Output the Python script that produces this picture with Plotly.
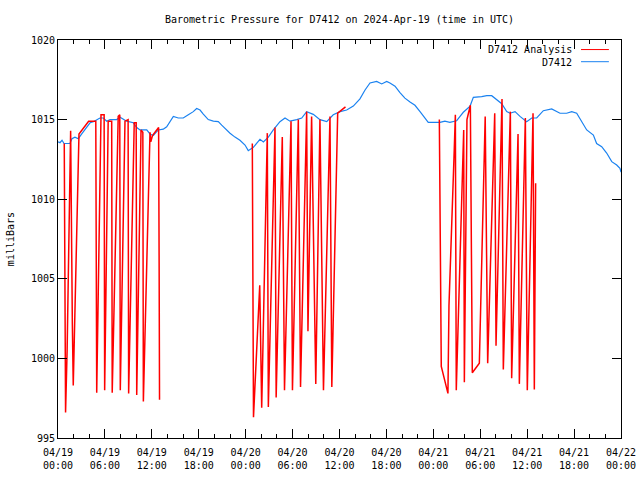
import plotly.graph_objects as go

# ---------------- data ----------------
blue_time = [
    "2024-04-19 00:00", "2024-04-19 00:15", "2024-04-19 00:31", "2024-04-19 00:46", "2024-04-19 01:32",
    "2024-04-19 01:47", "2024-04-19 02:10", "2024-04-19 02:36", "2024-04-19 03:02", "2024-04-19 03:40",
    "2024-04-19 04:06", "2024-04-19 04:31", "2024-04-19 05:22", "2024-04-19 05:48", "2024-04-19 06:14",
    "2024-04-19 06:39", "2024-04-19 07:30", "2024-04-19 07:56", "2024-04-19 08:47", "2024-04-19 09:38",
    "2024-04-19 10:04", "2024-04-19 10:29", "2024-04-19 11:21", "2024-04-19 11:46", "2024-04-19 12:11",
    "2024-04-19 12:50", "2024-04-19 13:28", "2024-04-19 13:54", "2024-04-19 14:19", "2024-04-19 14:45",
    "2024-04-19 15:23", "2024-04-19 16:01", "2024-04-19 16:40", "2024-04-19 17:18", "2024-04-19 17:44",
    "2024-04-19 18:10", "2024-04-19 18:35", "2024-04-19 19:13", "2024-04-19 19:52", "2024-04-19 20:30",
    "2024-04-19 20:56", "2024-04-19 21:21", "2024-04-19 22:00", "2024-04-19 22:38", "2024-04-19 23:16",
    "2024-04-19 23:55",
    "2024-04-20 00:20", "2024-04-20 00:59", "2024-04-20 01:50", "2024-04-20 02:16", "2024-04-20 02:54",
    "2024-04-20 03:32", "2024-04-20 04:23", "2024-04-20 05:02", "2024-04-20 05:40", "2024-04-20 06:32",
    "2024-04-20 07:10", "2024-04-20 07:48", "2024-04-20 08:39", "2024-04-20 09:30", "2024-04-20 10:22",
    "2024-04-20 11:12", "2024-04-20 12:04", "2024-04-20 12:55", "2024-04-20 13:46", "2024-04-20 14:37",
    "2024-04-20 15:16", "2024-04-20 15:54", "2024-04-20 16:45", "2024-04-20 17:24", "2024-04-20 18:02",
    "2024-04-20 18:27", "2024-04-20 19:06", "2024-04-20 19:44", "2024-04-20 20:22", "2024-04-20 21:01",
    "2024-04-20 21:39", "2024-04-20 22:18", "2024-04-20 22:48", "2024-04-20 23:21",
    "2024-04-21 00:51", "2024-04-21 01:29", "2024-04-21 02:07", "2024-04-21 02:59", "2024-04-21 03:25",
    "2024-04-21 03:50", "2024-04-21 04:42", "2024-04-21 05:07", "2024-04-21 06:11", "2024-04-21 06:50",
    "2024-04-21 07:28", "2024-04-21 08:06", "2024-04-21 08:45", "2024-04-21 09:23", "2024-04-21 09:48",
    "2024-04-21 10:27", "2024-04-21 11:05", "2024-04-21 11:56", "2024-04-21 12:35", "2024-04-21 13:13",
    "2024-04-21 14:04", "2024-04-21 15:08", "2024-04-21 16:12", "2024-04-21 17:03", "2024-04-21 17:42",
    "2024-04-21 18:20", "2024-04-21 18:58", "2024-04-21 19:37", "2024-04-21 20:28", "2024-04-21 20:53",
    "2024-04-21 21:32", "2024-04-21 22:10", "2024-04-21 22:49", "2024-04-21 23:27", "2024-04-21 23:52",
    "2024-04-22 00:00",
]
blue_value = [
    1013.6, 1013.55, 1013.7, 1013.5, 1013.5,
    1013.8, 1013.9, 1013.8, 1014.1, 1014.55,
    1014.8, 1014.87, 1015.1, 1015.1, 1014.9,
    1015.0, 1015.0, 1015.15, 1014.9, 1014.8,
    1014.5, 1014.35, 1014.35, 1014.1, 1014.0,
    1014.35, 1014.4, 1014.55, 1014.9, 1015.2,
    1015.1, 1015.1, 1015.3, 1015.5, 1015.7,
    1015.6, 1015.35, 1015.0, 1014.9, 1014.87,
    1014.65, 1014.45, 1014.14, 1013.9, 1013.7,
    1013.4,
    1013.05, 1013.26, 1013.76, 1013.6, 1013.9,
    1014.35, 1014.87, 1015.1, 1014.9, 1015.0,
    1015.1, 1015.5, 1015.33, 1015.0, 1014.87,
    1015.3, 1015.5, 1015.6, 1015.85, 1016.3,
    1016.86, 1017.3, 1017.4, 1017.24, 1017.4,
    1017.3, 1017.1, 1016.7, 1016.35, 1016.1,
    1015.9, 1015.5, 1015.2, 1014.83,
    1014.83, 1014.9, 1014.83, 1014.93, 1015.2,
    1015.46, 1015.85, 1016.4, 1016.44, 1016.5,
    1016.5, 1016.23, 1016.0, 1015.5, 1015.4,
    1015.5, 1015.2, 1014.87, 1015.1, 1015.1,
    1015.56, 1015.67, 1015.4, 1015.4, 1015.5,
    1015.4, 1014.87, 1014.35, 1014.03, 1013.5,
    1013.3, 1012.9, 1012.36, 1012.15, 1011.94,
    1011.7,
]

red_time = [
    "2024-04-19 00:48", "2024-04-19 00:58", "2024-04-19 01:10", "2024-04-19 01:37", "2024-04-19 01:50",
    "2024-04-19 01:57", "2024-04-19 02:41", "2024-04-19 03:20", "2024-04-19 03:55", "2024-04-19 04:50",
    "2024-04-19 04:57", "2024-04-19 05:30", "2024-04-19 05:54", "2024-04-19 05:58", "2024-04-19 06:25",
    "2024-04-19 06:52", "2024-04-19 06:56", "2024-04-19 07:42", "2024-04-19 07:54", "2024-04-19 07:58",
    "2024-04-19 08:34", "2024-04-19 08:58", "2024-04-19 09:02", "2024-04-19 09:45", "2024-04-19 10:00",
    "2024-04-19 10:04", "2024-04-19 10:37", "2024-04-19 10:51", "2024-04-19 10:55", "2024-04-19 11:46",
    "2024-04-19 11:52", "2024-04-19 12:05", "2024-04-19 12:52", "2024-04-19 12:56", "2024-04-19 12:59",
    None,
    "2024-04-20 00:51", "2024-04-20 00:56", "2024-04-20 01:00", "2024-04-20 01:48", "2024-04-20 02:03",
    "2024-04-20 02:46", "2024-04-20 02:54", "2024-04-20 03:45", "2024-04-20 03:54", "2024-04-20 04:41",
    "2024-04-20 04:58", "2024-04-20 05:48", "2024-04-20 05:59", "2024-04-20 06:44", "2024-04-20 07:01",
    "2024-04-20 07:48", "2024-04-20 07:58", "2024-04-20 08:26", "2024-04-20 08:58", "2024-04-20 09:30",
    "2024-04-20 09:57", "2024-04-20 10:47", "2024-04-20 11:01", "2024-04-20 11:46", "2024-04-20 12:46",
    None,
    "2024-04-21 00:46", "2024-04-21 00:49", "2024-04-21 00:55", "2024-04-21 01:01", "2024-04-21 01:52",
    "2024-04-21 02:00", "2024-04-21 02:40", "2024-04-21 02:49", "2024-04-21 02:56", "2024-04-21 03:53",
    "2024-04-21 03:58", "2024-04-21 04:18", "2024-04-21 04:44", "2024-04-21 04:59", "2024-04-21 05:53",
    "2024-04-21 06:38", "2024-04-21 06:57", "2024-04-21 07:51", "2024-04-21 08:01", "2024-04-21 08:47",
    "2024-04-21 08:57", "2024-04-21 09:51", "2024-04-21 10:01", "2024-04-21 10:50", "2024-04-21 11:00",
    "2024-04-21 11:46", "2024-04-21 12:01", "2024-04-21 12:45", "2024-04-21 12:55", "2024-04-21 13:05",
]
red_value = [
    1013.5, 996.6, 1000.5, 1014.3, 1002.2,
    998.3, 1014.1, 1014.5, 1014.9, 1014.9,
    997.85, 1015.3, 1015.3, 998.0, 1014.9,
    1014.9, 997.85, 1015.2, 1015.3, 998.0,
    1014.9, 1015.0, 997.8, 1014.8, 1014.8,
    997.7, 1014.35, 1014.2, 997.3, 1014.2,
    1013.6, 1014.0, 1014.5, 1006.0, 997.4,
    None,
    1013.5, 1004.9, 996.3, 1004.6, 996.9,
    1014.15, 996.95, 1014.5, 997.55, 1013.9,
    998.0, 1014.9, 998.0, 1015.0, 998.2,
    1015.5, 1001.7, 1015.2, 998.4, 1015.0,
    998.0, 1015.2, 998.2, 1015.4, 1015.8,
    None,
    1015.0, 1011.2, 1003.5, 999.5, 997.8,
    1003.3, 1013.0, 1015.3, 998.0, 1014.35,
    998.5, 1015.0, 1015.9, 999.1, 999.7,
    1015.2, 999.7, 1015.4, 1000.8, 1016.3,
    999.3, 1015.5, 998.75, 1014.1, 998.4,
    1015.1, 998.0, 1015.4, 998.05, 1011.0,
]

x_tick_vals = ["2024-04-19 00:00", "2024-04-19 06:00", "2024-04-19 12:00", "2024-04-19 18:00",
               "2024-04-20 00:00", "2024-04-20 06:00", "2024-04-20 12:00", "2024-04-20 18:00",
               "2024-04-21 00:00", "2024-04-21 06:00", "2024-04-21 12:00", "2024-04-21 18:00",
               "2024-04-22 00:00"]
x_tick_text = ["04/19<br>00:00", "04/19<br>06:00", "04/19<br>12:00", "04/19<br>18:00",
               "04/20<br>00:00", "04/20<br>06:00", "04/20<br>12:00", "04/20<br>18:00",
               "04/21<br>00:00", "04/21<br>06:00", "04/21<br>12:00", "04/21<br>18:00",
               "04/22<br>00:00"]
y_tick_vals = [995, 1000, 1005, 1010, 1015, 1020]

series_names = ["D7412 Analysis", "D7412"]
RED = "#ff0000"
BLUE = "#1a82f0"
FONT = "DejaVu Sans Mono"

# ---------------- figure ----------------
fig = go.Figure()
fig.add_trace(go.Scatter(x=blue_time, y=blue_value, mode="lines", name=series_names[1],
                         line=dict(color=BLUE, width=1.2), connectgaps=False, showlegend=False))
fig.add_trace(go.Scatter(x=red_time, y=red_value, mode="lines", name=series_names[0],
                         line=dict(color=RED, width=1.5), connectgaps=False, showlegend=False))

# legend drawn gnuplot-style (text right, sample on the right)
leg_rows = [(series_names[0], RED, 0.975), (series_names[1], BLUE, 0.9445)]
for name, col, yy in leg_rows:
    fig.add_annotation(x=0.917, y=yy, xref="paper", yref="paper", text=name, showarrow=False,
                       xanchor="right", yanchor="middle", font=dict(family=FONT, size=10, color="black"))
    fig.add_shape(type="line", xref="paper", yref="paper", x0=0.929, x1=0.9785, y0=yy + 0.001, y1=yy + 0.001,
                  line=dict(color=col, width=1))

fig.add_annotation(x=-0.085, y=0.5, xref="paper", yref="paper", text="milliBars", textangle=-90,
                   showarrow=False, xanchor="center", yanchor="middle",
                   font=dict(family=FONT, size=10, color="black"))

fig.update_layout(
    width=640, height=480,
    margin=dict(l=58, r=19, t=40, b=42, autoexpand=False),
    paper_bgcolor="white", plot_bgcolor="white",
    title=dict(text="Barometric Pressure for D7412 on 2024-Apr-19 (time in UTC)",
               x=0.5, xref="paper", y=1 - 19 / 480, yref="container", yanchor="middle", xanchor="center",
               font=dict(family=FONT, size=10, color="black")),
    font=dict(family=FONT, size=10, color="black"),
    showlegend=False,
)
fig.update_xaxes(
    type="date", range=["2024-04-19 00:00", "2024-04-22 00:00"], automargin=False,
    tickmode="array", tickvals=x_tick_vals, ticktext=x_tick_text,
    ticks="inside", ticklen=9, tickcolor="black", tickwidth=1, ticklabelstandoff=5,
    minor=dict(tickmode="linear", tick0="2024-04-19 00:00", dtick=2 * 3600 * 1000,
               ticks="inside", ticklen=4, tickcolor="black", tickwidth=1, showgrid=False),
    showline=True, linecolor="black", linewidth=1, mirror="ticks",
    showgrid=False, zeroline=False,
    tickfont=dict(family=FONT, size=10, color="black"),
)
fig.update_yaxes(
    range=[995, 1020], tickmode="array", tickvals=y_tick_vals, automargin=False,
    ticks="inside", ticklen=9, tickcolor="black", tickwidth=1,
    showline=True, linecolor="black", linewidth=1, mirror="ticks",
    showgrid=False, zeroline=False,
    tickfont=dict(family=FONT, size=10, color="black"),
)

fig.write_html("out.html")
